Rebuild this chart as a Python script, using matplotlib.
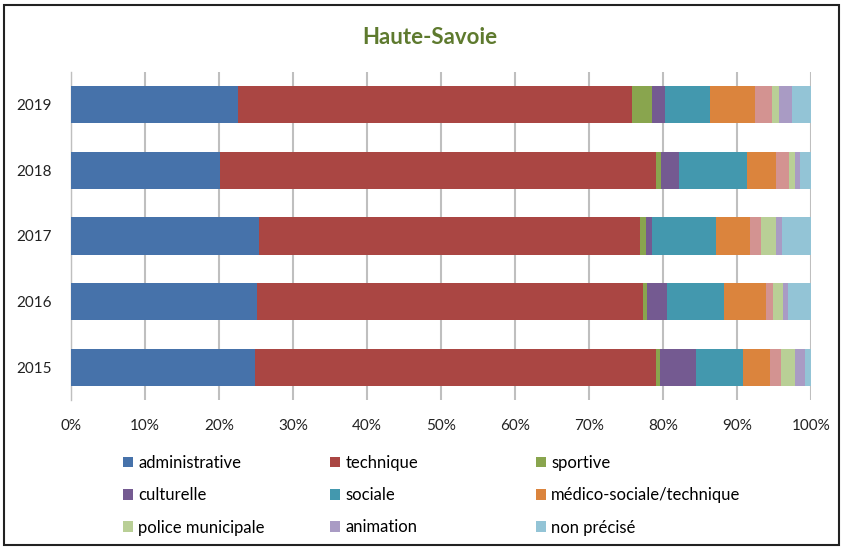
import numpy as np
import matplotlib.pyplot as plt
from matplotlib.patches import Rectangle

plt.rcParams['font.family'] = ['Lato', 'DejaVu Sans']

years = ['2015', '2016', '2017', '2018', '2019']

# parts in %, years 2015 -> 2019
administrative = [24.9, 25.2, 25.4, 20.1, 22.6]
technique = [54.1, 52.1, 51.5, 58.9, 53.2]
sportive = [0.6, 0.5, 0.8, 0.7, 2.7]
culturelle = [4.9, 2.7, 0.8, 2.5, 1.8]
sociale = [6.3, 7.7, 8.6, 9.2, 6.1]
medico = [3.6, 5.7, 4.6, 3.9, 6.0]
autre = [1.5, 1.0, 1.5, 1.7, 2.3]  # series without legend entry
police = [1.9, 1.3, 2.1, 0.9, 1.0]
animation = [1.4, 0.7, 0.8, 0.6, 1.7]
non_precise = [0.8, 3.1, 3.9, 1.5, 2.6]

series = [
    ('administrative', administrative, '#4672AA'),
    ('technique', technique, '#AA4643'),
    ('sportive', sportive, '#89A54E'),
    ('culturelle', culturelle, '#745A91'),
    ('sociale', sociale, '#4398AE'),
    ('médico-sociale/technique', medico, '#DB843D'),
    ('_autre', autre, '#D39391'),
    ('police municipale', police, '#B9CF96'),
    ('animation', animation, '#A99BC4'),
    ('non précisé', non_precise, '#93C4D6'),
]

fig = plt.figure(figsize=(8.44, 5.49), dpi=100)
ax = fig.add_axes([71 / 844, 1 - 400 / 549, 740 / 844, 328 / 549])

y = np.arange(len(years))
left = np.zeros(len(years))
handles = {}
for name, vals, col in series:
    v = np.array(vals)
    b = ax.barh(y, v, left=left, height=0.57, color=col, zorder=3, label=name)
    handles[name] = b
    left += v

ax.set_xlim(0, 100)
ax.set_ylim(-0.5, len(years) - 0.5)
ax.set_xticks(np.arange(0, 101, 10))
ax.set_xticklabels(['{}%'.format(t) for t in range(0, 101, 10)])
ax.set_yticks(y)
ax.set_yticklabels(years)
ax.tick_params(axis='both', length=0, labelsize=11, colors='#222222')
ax.tick_params(axis='x', pad=14)
ax.tick_params(axis='y', pad=14)
ax.grid(axis='x', color='#BFBFBF', linewidth=1.5, zorder=0)
for s in ['top', 'right', 'bottom']:
    ax.spines[s].set_visible(False)
ax.spines['left'].set_color('#BFBFBF')
ax.spines['left'].set_linewidth(1.0)

fig.text(430 / 844, 1 - 37 / 549, 'Haute-Savoie', ha='center', va='center',
         fontsize=16, fontweight='bold', color='#5E7A2E')

# legend: three columns placed by hand
cols = [
    (['administrative', 'culturelle', 'police municipale'], 115),
    (['technique', 'sociale', 'animation'], 322),
    (['sportive', 'médico-sociale/technique', 'non précisé'], 528),
]
for names, x in cols:
    fig.legend([handles[n] for n in names], names, loc='upper left',
               bbox_to_anchor=(x / 844, 1 - 446.5 / 549), frameon=False,
               fontsize=12, handlelength=0.6, handleheight=0.6,
               handletextpad=0.3, labelspacing=0.98, borderpad=0)

fig.patches.append(Rectangle((4 / 844, 4 / 549), 835 / 844, 540 / 549,
                             transform=fig.transFigure, fill=False,
                             edgecolor='#222222', linewidth=1.5))

fig.savefig('out.png', dpi=100)
